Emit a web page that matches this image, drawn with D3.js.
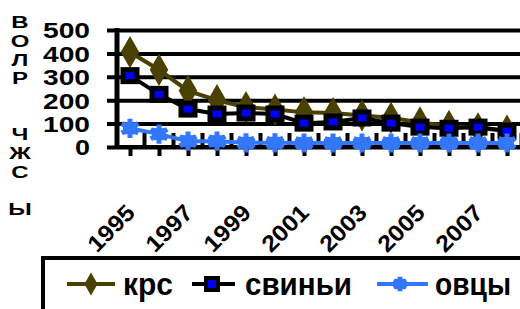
<!DOCTYPE html>
<html>
<head>
<meta charset="utf-8">
<script src="https://cdn.jsdelivr.net/npm/d3@7"></script>
<style>
  body { margin: 0; background: #fff; }
  svg { display: block; font-family: "Liberation Sans", Arial, sans-serif; font-weight: bold; }
  .ytitle { writing-mode: vertical-rl; text-orientation: upright; }
</style>
</head>
<body>
<div class="chart"></div>
<script>
// Data
var years = [1995, 1996, 1997, 1998, 1999, 2000, 2001, 2002, 2003, 2004, 2005, 2006, 2007, 2008];
var krs = [405, 330, 240, 200, 170, 160, 148, 145, 135, 125, 105, 90, 80, 70];
var svinyi = [305, 225, 162, 141, 145, 141, 102, 107, 124, 102, 85, 80, 85, 68];
var ovcy = [80, 55, 25, 25, 18, 18, 17, 17, 17, 17, 17, 17, 17, 17];
var yTicks = [0, 100, 200, 300, 400, 500];
var seriesNames = ["крс", "свиньи", "овцы"];
var yTitle = "ВОЛР\u00a0\u00a0ЧЖС\u00a0Ы";

var svgWidth = 520, svgHeight = 309;

var svg = d3.select(".chart").append("svg")
  .attr("width", svgWidth)
  .attr("height", svgHeight);

// scales
var x = d3.scalePoint().domain(years).range([130, 507]);
var y = d3.scaleLinear().domain([0, 500]).range([147, 30]);
var step = x.step();

// gridlines + y labels through the axis
var leftAxis = d3.axisLeft(y).tickValues(yTicks).tickSize(-(svgWidth - 107)).tickPadding(17);
var gy = svg.append("g").attr("transform", "translate(107,0)").call(leftAxis);
gy.select(".domain").remove();
gy.selectAll(".tick line").attr("stroke", "#000").attr("stroke-width", 4);
gy.selectAll(".tick text")
  .attr("fill", "#000")
  .style("font-size", "22px")
  .style("font-weight", "bold")
  .attr("dy", "0.36em")
  .attr("textLength", function(d) { return d === 0 ? 15 : 47; })
  .attr("lengthAdjust", "spacingAndGlyphs");

// y axis line
svg.append("line")
  .attr("x1", 117).attr("x2", 117)
  .attr("y1", y(500) - 2).attr("y2", y(0) + 2)
  .attr("stroke", "#000").attr("stroke-width", 5);

// boundary ticks (between categories, pointing up)
svg.selectAll(".btick")
  .data(years)
  .enter().append("line")
  .attr("x1", function(d) { return x(d) + step / 2; })
  .attr("x2", function(d) { return x(d) + step / 2; })
  .attr("y1", y(0) - 14).attr("y2", y(0))
  .attr("stroke", "#000").attr("stroke-width", 4);

// x axis with labels every other year
var bottomAxis = d3.axisBottom(x).tickSize(9)
  .tickFormat(function(d) { return (d % 2 === 1) ? d : ""; });
var gx = svg.append("g").attr("transform", "translate(0," + y(0) + ")").call(bottomAxis);
gx.select(".domain").remove();
gx.selectAll(".tick line").attr("stroke", "#000").attr("stroke-width", 4);
gx.selectAll(".tick text")
  .attr("fill", "#000")
  .style("font-size", "23px")
  .style("font-weight", "bold")
  .attr("text-anchor", "end")
  .attr("dy", 0)
  .attr("y", 0)
  .attr("textLength", function(d) { return d % 2 === 1 ? 56 : null; })
  .attr("lengthAdjust", "spacingAndGlyphs")
  .attr("transform", "translate(6,67) rotate(-45)");

svg.append("line")
  .attr("x1", 117).attr("x2", svgWidth)
  .attr("y1", y(0)).attr("y2", y(0))
  .attr("stroke", "#000").attr("stroke-width", 4);

// y title, upright stacked letters
svg.append("text")
  .attr("class", "ytitle")
  .attr("transform", "translate(20,13) scale(1.5,1.05)")
  .style("font-size", "16px")
  .text(yTitle);

var line = d3.line()
  .x(function(d, i) { return x(years[i]); })
  .y(function(d) { return y(d); });

// КРС
var krsColor = "#4a4100";
svg.append("path").datum(krs)
  .attr("d", line).attr("fill", "none")
  .attr("stroke", krsColor).attr("stroke-width", 4);
svg.selectAll(".krs")
  .data(krs)
  .enter().append("path")
  .attr("transform", function(d, i) { return "translate(" + x(years[i]) + "," + y(d) + ")"; })
  .attr("d", d3.symbol().type(d3.symbolDiamond).size(300))
  .attr("fill", krsColor);

// свиньи
svg.append("path").datum(svinyi)
  .attr("d", line).attr("fill", "none")
  .attr("stroke", "#000").attr("stroke-width", 4);
svg.selectAll(".pig")
  .data(svinyi)
  .enter().append("rect")
  .attr("x", function(d, i) { return x(years[i]) - 7; })
  .attr("y", function(d) { return y(d) - 6; })
  .attr("width", 14).attr("height", 12)
  .attr("fill", "#0000ff")
  .attr("stroke", "#000").attr("stroke-width", 5);

// овцы
var sheepColor = "#3377ff";
svg.append("path").datum(ovcy)
  .attr("d", line).attr("fill", "none")
  .attr("stroke", sheepColor).attr("stroke-width", 4);
var sheep = svg.selectAll(".sheep")
  .data(ovcy)
  .enter().append("g")
  .attr("transform", function(d, i) { return "translate(" + x(years[i]) + "," + y(d) + ")"; });
sheep.append("path")
  .attr("d", d3.symbol().type(d3.symbolAsterisk).size(260))
  .attr("stroke", sheepColor).attr("stroke-width", 5).attr("fill", "none");
sheep.append("rect")
  .attr("x", -7).attr("y", -6).attr("width", 14).attr("height", 12)
  .attr("fill", sheepColor);

// legend
svg.append("rect")
  .attr("x", 43).attr("y", 258)
  .attr("width", 600).attr("height", 100)
  .attr("fill", "none").attr("stroke", "#000").attr("stroke-width", 4);

var legY = 284;
var legLine = [[67, 115], [192, 235], [377, 428]];
var legText = [123, 245, 435];
var legLen = [50, 107, 76];
var legColor = [krsColor, "#000", sheepColor];
var leg = svg.selectAll(".leg")
  .data(seriesNames)
  .enter().append("g");
leg.append("line")
  .attr("x1", function(d, i) { return legLine[i][0]; })
  .attr("x2", function(d, i) { return legLine[i][1]; })
  .attr("y1", legY).attr("y2", legY)
  .attr("stroke", function(d, i) { return legColor[i]; })
  .attr("stroke-width", 4);
leg.append("text")
  .attr("x", function(d, i) { return legText[i]; })
  .attr("y", 295)
  .style("font-size", "32px")
  .attr("textLength", function(d, i) { return legLen[i]; })
  .attr("lengthAdjust", "spacingAndGlyphs")
  .text(function(d) { return d; });

svg.append("path")
  .attr("transform", "translate(91," + legY + ")")
  .attr("d", d3.symbol().type(d3.symbolDiamond).size(150))
  .attr("fill", krsColor);
svg.append("rect")
  .attr("x", 206).attr("y", legY - 6).attr("width", 12).attr("height", 12)
  .attr("fill", "#0000ff").attr("stroke", "#000").attr("stroke-width", 4);
var ls = svg.append("g").attr("transform", "translate(400," + legY + ")");
ls.append("path")
  .attr("d", d3.symbol().type(d3.symbolAsterisk).size(150))
  .attr("stroke", sheepColor).attr("stroke-width", 5).attr("fill", "none");
ls.append("rect")
  .attr("x", -5).attr("y", -5).attr("width", 10).attr("height", 10)
  .attr("fill", sheepColor);
</script>
</body>
</html>
